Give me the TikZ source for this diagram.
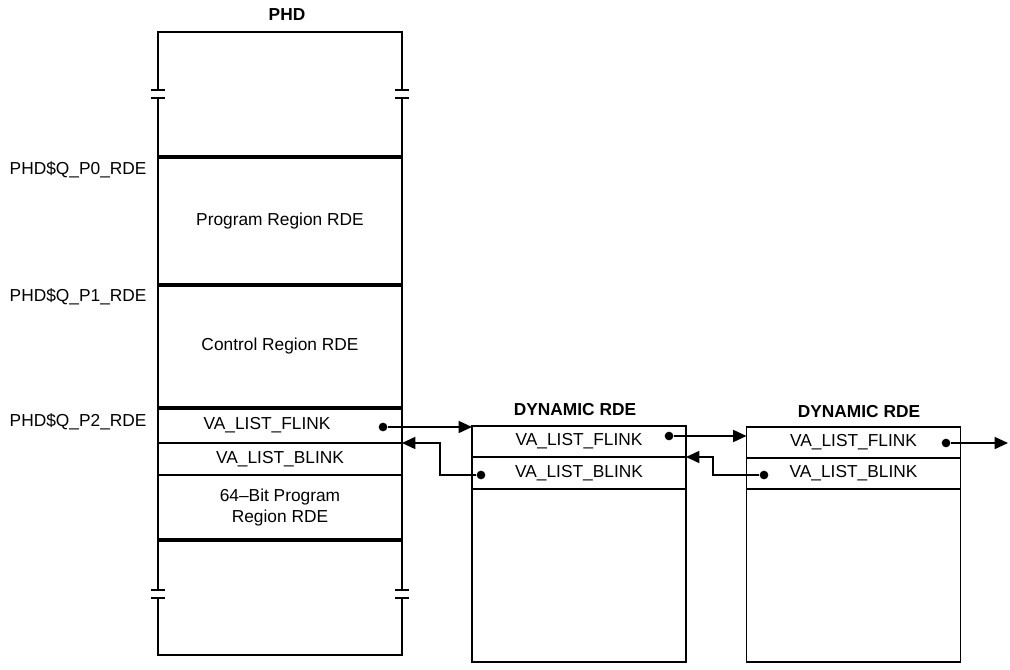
\documentclass[tikz,border=0pt]{standalone}
\usepackage{fontspec}
\setmainfont{Liberation Sans}
\usetikzlibrary{arrows.meta}

\begin{document}
\begin{tikzpicture}[
  x=0.75pt, y=-0.75pt,
  every node/.style={font=\fontsize{13}{15.75}\selectfont},
  cell/.style={rectangle, draw, line width=1.2pt, inner sep=0pt, outer sep=0pt, align=center},
  phdcell/.style={cell, minimum width=183pt},
  dyncell/.style={cell, minimum width=160.5pt},
  frame/.style={line width=1.2pt},
  sep/.style={line width=3pt},
  tick/.style={line width=1.2pt},
  dot/.style={circle, fill, inner sep=0pt, minimum size=6.5pt},
  link/.style={-{Triangle[length=10pt, width=9pt]}, line width=1.2pt},
  title/.style={font=\fontsize{13}{15.75}\selectfont\bfseries},
  offset/.style={anchor=west}
]
\useasboundingbox (0,0) rectangle (1010,670);

% PHD
\node[title] (phd) at (287,15) {PHD};
\draw[frame] (158,90) -- (158,32) -- (402,32) -- (402,90);
\draw[frame] (158,98) -- (158,157) (402,98) -- (402,157);
\draw[tick] (151,90) -- (165,90) (151,98) -- (165,98);
\draw[tick] (395,90) -- (409,90) (395,98) -- (409,98);

\node[phdcell, minimum height=96pt] (prog) at (280,221) {Program Region RDE};
\node[phdcell, minimum height=92.25pt] (ctrl) at (280,346.5) {Control Region RDE};
\node[phdcell, minimum height=26.25pt] (f0) at (280,425.5) {VA\_LIST\_FLINK\hspace{1.5em}};
\node[phdcell, minimum height=24pt] (b0) at (280,459) {VA\_LIST\_BLINK};
\node[phdcell, minimum height=48.75pt] (p64) at (280,507.5) {64\textendash Bit Program\\Region RDE};

\draw[frame] (158,540) -- (158,590) (158,598) -- (158,655) -- (402,655) -- (402,598) (402,590) -- (402,540);
\draw[tick] (151,590) -- (165,590) (151,598) -- (165,598);
\draw[tick] (395,590) -- (409,590) (395,598) -- (409,598);

\draw[sep] (prog.north west) -- (prog.north east);
\draw[sep] (ctrl.north west) -- (ctrl.north east);
\draw[sep] (f0.north west) -- (f0.north east);
\draw[sep] (p64.south west) -- (p64.south east);

% offsets
\node[offset] (q0) at (5,170) {PHD\$Q\_P0\_RDE};
\node[offset] (q1) at (5,297) {PHD\$Q\_P1\_RDE};
\node[offset] (q2) at (5,422) {PHD\$Q\_P2\_RDE};

% dynamic RDEs
\node[title] (dyn1) at (575,410) {DYNAMIC RDE};
\node[dyncell, minimum height=23.25pt] (f1) at (579,441.5) {VA\_LIST\_FLINK};
\node[dyncell, minimum height=24pt] (b1) at (579,473) {VA\_LIST\_BLINK};
\node[dyncell, minimum height=129.75pt] (r1) at (579,575.5) {};

\node[title] (dyn2) at (859,412) {DYNAMIC RDE};
\node[dyncell, minimum height=23.25pt] (f2) at (853.5,442.5) {VA\_LIST\_FLINK};
\node[dyncell, minimum height=23.25pt] (b2) at (853.5,473.5) {VA\_LIST\_BLINK};
\node[dyncell, minimum height=129.75pt] (r2) at (853.5,575.5) {};

% links
\node[dot] (fd0) at (383,427) {};
\node[dot] (fd1) at (669,436) {};
\node[dot] (fd2) at (946,443) {};
\node[dot] (bd1) at (481,475) {};
\node[dot] (bd2) at (764,475) {};
\coordinate (next) at (1008,443);

\draw[link] (fd0) -- (fd0 -| f1.west);
\draw[link] (fd1) -- (fd1 -| f2.west);
\draw[link] (fd2) -- (next);
\draw[link] (bd1) -- ++(-41,0) |- (b0.north east);
\draw[link] (bd2) -- ++(-51,0) |- (b1.north east);
\end{tikzpicture}
\end{document}
